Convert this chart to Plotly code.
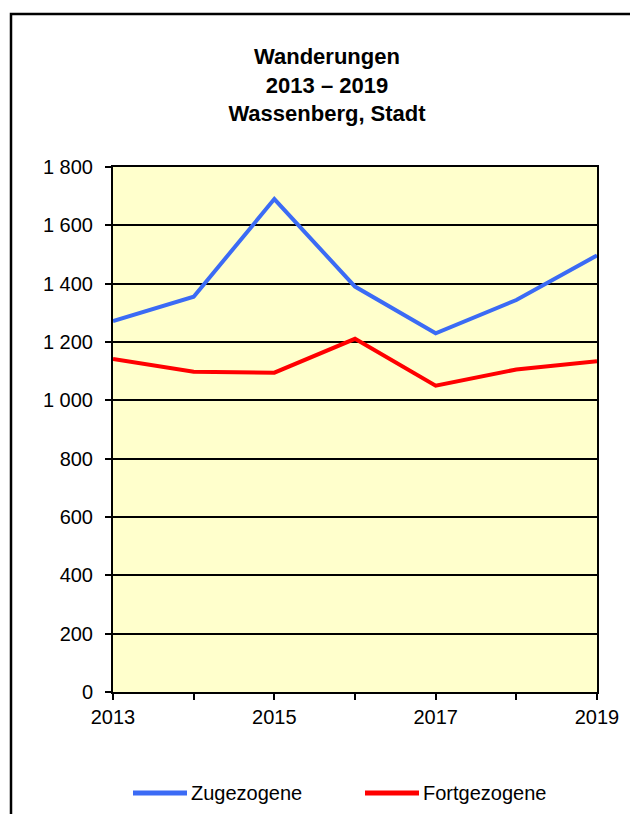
import plotly.graph_objects as go

# Wanderungen Wassenberg, Stadt 2013–2019
years = [2013, 2014, 2015, 2016, 2017, 2018, 2019]
zugezogene = [1272, 1355, 1690, 1390, 1230, 1344, 1497]
fortgezogene = [1142, 1098, 1095, 1211, 1050, 1106, 1134]
series_names = ["Zugezogene", "Fortgezogene"]
series_colors = ["#3B6BF5", "#FF0000"]

y_ticks = [0, 200, 400, 600, 800, 1000, 1200, 1400, 1600, 1800]
y_labels = ["0", "200", "400", "600", "800", "1 000", "1 200", "1 400", "1 600", "1 800"]
x_labels = ["2013", "", "2015", "", "2017", "", "2019"]

FONT = "Liberation Sans, Arial, sans-serif"

# plot area in pixels
L, R, T, B = 113, 33, 167, 122
W, H = 630, 814
pw, ph = W - L - R, H - T - B


def px_to_paper_x(px):
    return (px - L) / pw


def px_to_paper_y(py):
    return (H - B - py) / ph


fig = go.Figure()
for name, values, color in zip(series_names, [zugezogene, fortgezogene], series_colors):
    fig.add_trace(go.Scatter(x=years, y=values, mode="lines", name=name,
                             line=dict(color=color, width=4), showlegend=False))

# outer chart frame (open towards the right and bottom edges)
fig.add_shape(type="rect", xref="paper", yref="paper",
              x0=px_to_paper_x(11), x1=px_to_paper_x(660),
              y0=px_to_paper_y(840), y1=px_to_paper_y(14),
              line=dict(color="black", width=2.5), fillcolor="rgba(0,0,0,0)",
              layer="below")

# legend row below the chart: line swatch followed by the series name
legend_starts = [133, 365]
legend_y = px_to_paper_y(793)
for start, name, color in zip(legend_starts, series_names, series_colors):
    fig.add_shape(type="line", xref="paper", yref="paper",
                  x0=px_to_paper_x(start), x1=px_to_paper_x(start + 54),
                  y0=legend_y, y1=legend_y,
                  line=dict(color=color, width=5))
    fig.add_annotation(xref="paper", yref="paper",
                       x=px_to_paper_x(start + 56), y=legend_y,
                       xanchor="left", yanchor="middle", showarrow=False,
                       text=name, font=dict(family=FONT, size=20, color="black"))

fig.update_layout(
    width=W, height=H,
    margin=dict(l=L, r=R, t=T, b=B, autoexpand=False),
    paper_bgcolor="white",
    plot_bgcolor="#FFFFCC",
    font=dict(family=FONT, size=20, color="black"),
    title=dict(text="<b>Wanderungen<br>2013 – 2019<br>Wassenberg, Stadt</b>",
               x=327 / W, xanchor="center",
               y=1 - 64 / H, yanchor="middle",
               font=dict(family=FONT, size=22, color="black")),
    showlegend=False,
    xaxis=dict(range=[2013, 2019], tickvals=years, ticktext=x_labels,
               ticks="outside", ticklen=6, tickwidth=2, tickcolor="black",
               showline=True, linecolor="black", linewidth=2, mirror=True,
               showgrid=False, zeroline=False, tickfont=dict(size=20)),
    yaxis=dict(range=[0, 1800], tickvals=y_ticks, ticktext=y_labels,
               ticks="outside", ticklen=6, tickwidth=2, tickcolor="black",
               ticklabelstandoff=8,
               showline=True, linecolor="black", linewidth=2, mirror=True,
               showgrid=True, gridcolor="black", gridwidth=2,
               zeroline=False, tickfont=dict(size=20)),
)

fig.write_html("out.html")
